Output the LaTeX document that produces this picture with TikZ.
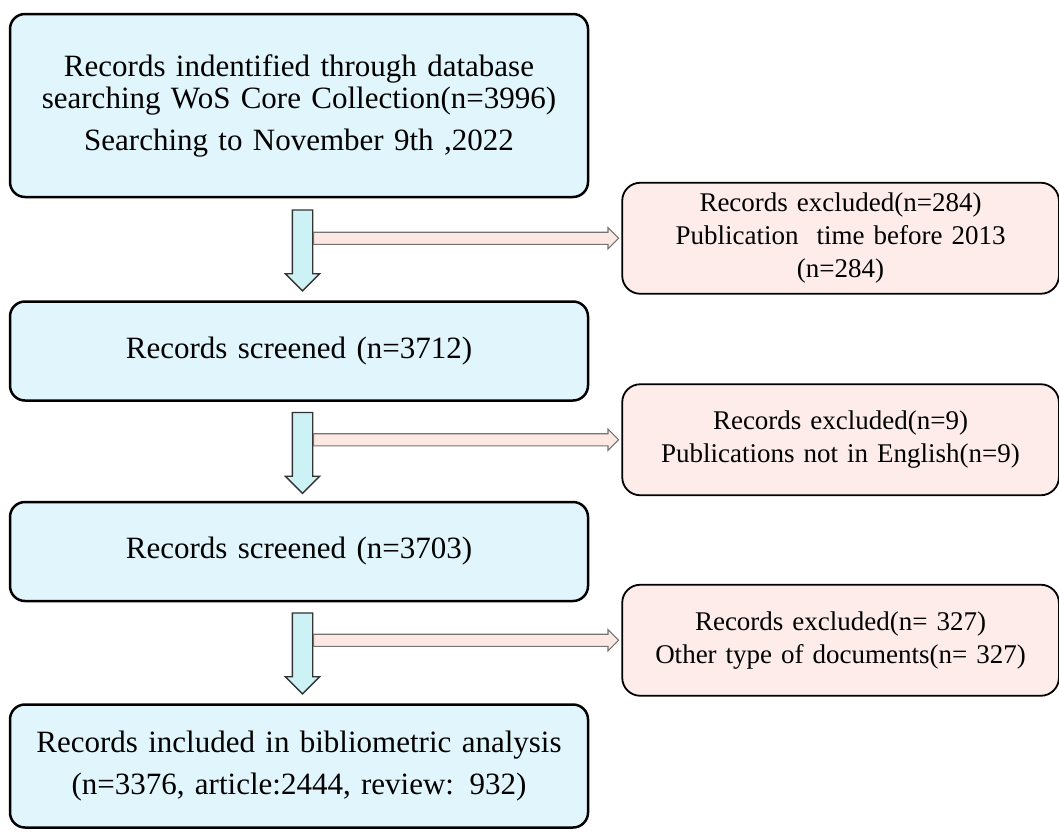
\documentclass[tikz,border=0pt]{standalone}
\usepackage{fontspec}
\setmainfont{Liberation Serif}
\usetikzlibrary{positioning, shapes.arrows}
\definecolor{boxblue}{RGB}{225,246,252}
\definecolor{boxpink}{RGB}{253,236,234}
\definecolor{arrowblue}{RGB}{204,242,245}
\definecolor{arrowpink}{RGB}{253,232,228}

\begin{document}
\begin{tikzpicture}[
    x=1pt, y=-1pt,
    node distance=100pt,
    bluebox/.style={rectangle, rounded corners=15pt, draw=black, line width=2.5pt, fill=boxblue, minimum width=578pt, text width=570pt, align=center, font=\fontsize{31}{32}\selectfont},
    pinkbox/.style={rectangle, rounded corners=18pt, draw=black, line width=1.8pt, fill=boxpink, minimum width=436pt, minimum height=111pt, text width=430pt, align=center, font=\fontsize{27}{33}\selectfont},
    downarrow/.style={single arrow, rotate=-90, draw=black!80, line width=1.3pt, fill=arrowblue, inner xsep=0pt, inner ysep=9.5pt, minimum width=33pt, single arrow head extend=7pt, minimum height=81pt},
    sidearrow/.style={single arrow, draw=black!55, line width=1.1pt, fill=arrowpink, inner xsep=0pt, inner ysep=5.5pt, minimum width=20pt, single arrow head extend=4.5pt, minimum height=305pt},
    ]

    \useasboundingbox (0,0) rectangle (1059,835);

    \node[bluebox, minimum height=183pt]    (ident)     at (299,105.5)    {Records indentified through database\\ searching WoS Core Collection(n=3996)\\[10pt] Searching to November 9th ,2022};
    \node[bluebox, minimum height=99pt]     (screen1)   [below=102pt of ident]     {Records screened (n=3712)};
    \node[bluebox, minimum height=99pt]     (screen2)   [below=99pt of screen1]    {Records screened (n=3703)};
    \node[bluebox, minimum height=123pt]    (incl)      [below=101pt of screen2]   {Records included in bibliometric analysis\\[10pt] (n=3376, article:2444, review: 932)};

    \node[downarrow, anchor=tail]    (down1)     at ([xshift=3.5pt, yshift=-11pt]ident.south)    {};
    \node[downarrow, anchor=tail]    (down2)     at ([xshift=3.5pt, yshift=-10pt]screen1.south)  {};
    \node[downarrow, anchor=tail]    (down3)     at ([xshift=3.5pt, yshift=-10pt]screen2.south)  {};

    \node[sidearrow, anchor=tail]    (side1)     at ([xshift=10.5pt, yshift=-29pt]down1.tail)    {};
    \node[sidearrow, anchor=tail]    (side2)     at ([xshift=10.5pt, yshift=-28pt]down2.tail)    {};
    \node[sidearrow, anchor=tail]    (side3)     at ([xshift=10.5pt, yshift=-28pt]down3.tail)    {};

    \node[pinkbox, anchor=west]      (excl1)     [right=2pt of side1.tip]    {Records excluded(n=284)\\ Publication\ \ time before 2013\\ (n=284)};
    \node[pinkbox, anchor=west]      (excl2)     [right=2pt of side2.tip]    {Records excluded(n=9)\\ Publications not in English(n=9)};
    \node[pinkbox, anchor=west]      (excl3)     [right=2pt of side3.tip]    {Records excluded(n= 327)\\ Other type of documents(n= 327)};

\end{tikzpicture}
\end{document}
